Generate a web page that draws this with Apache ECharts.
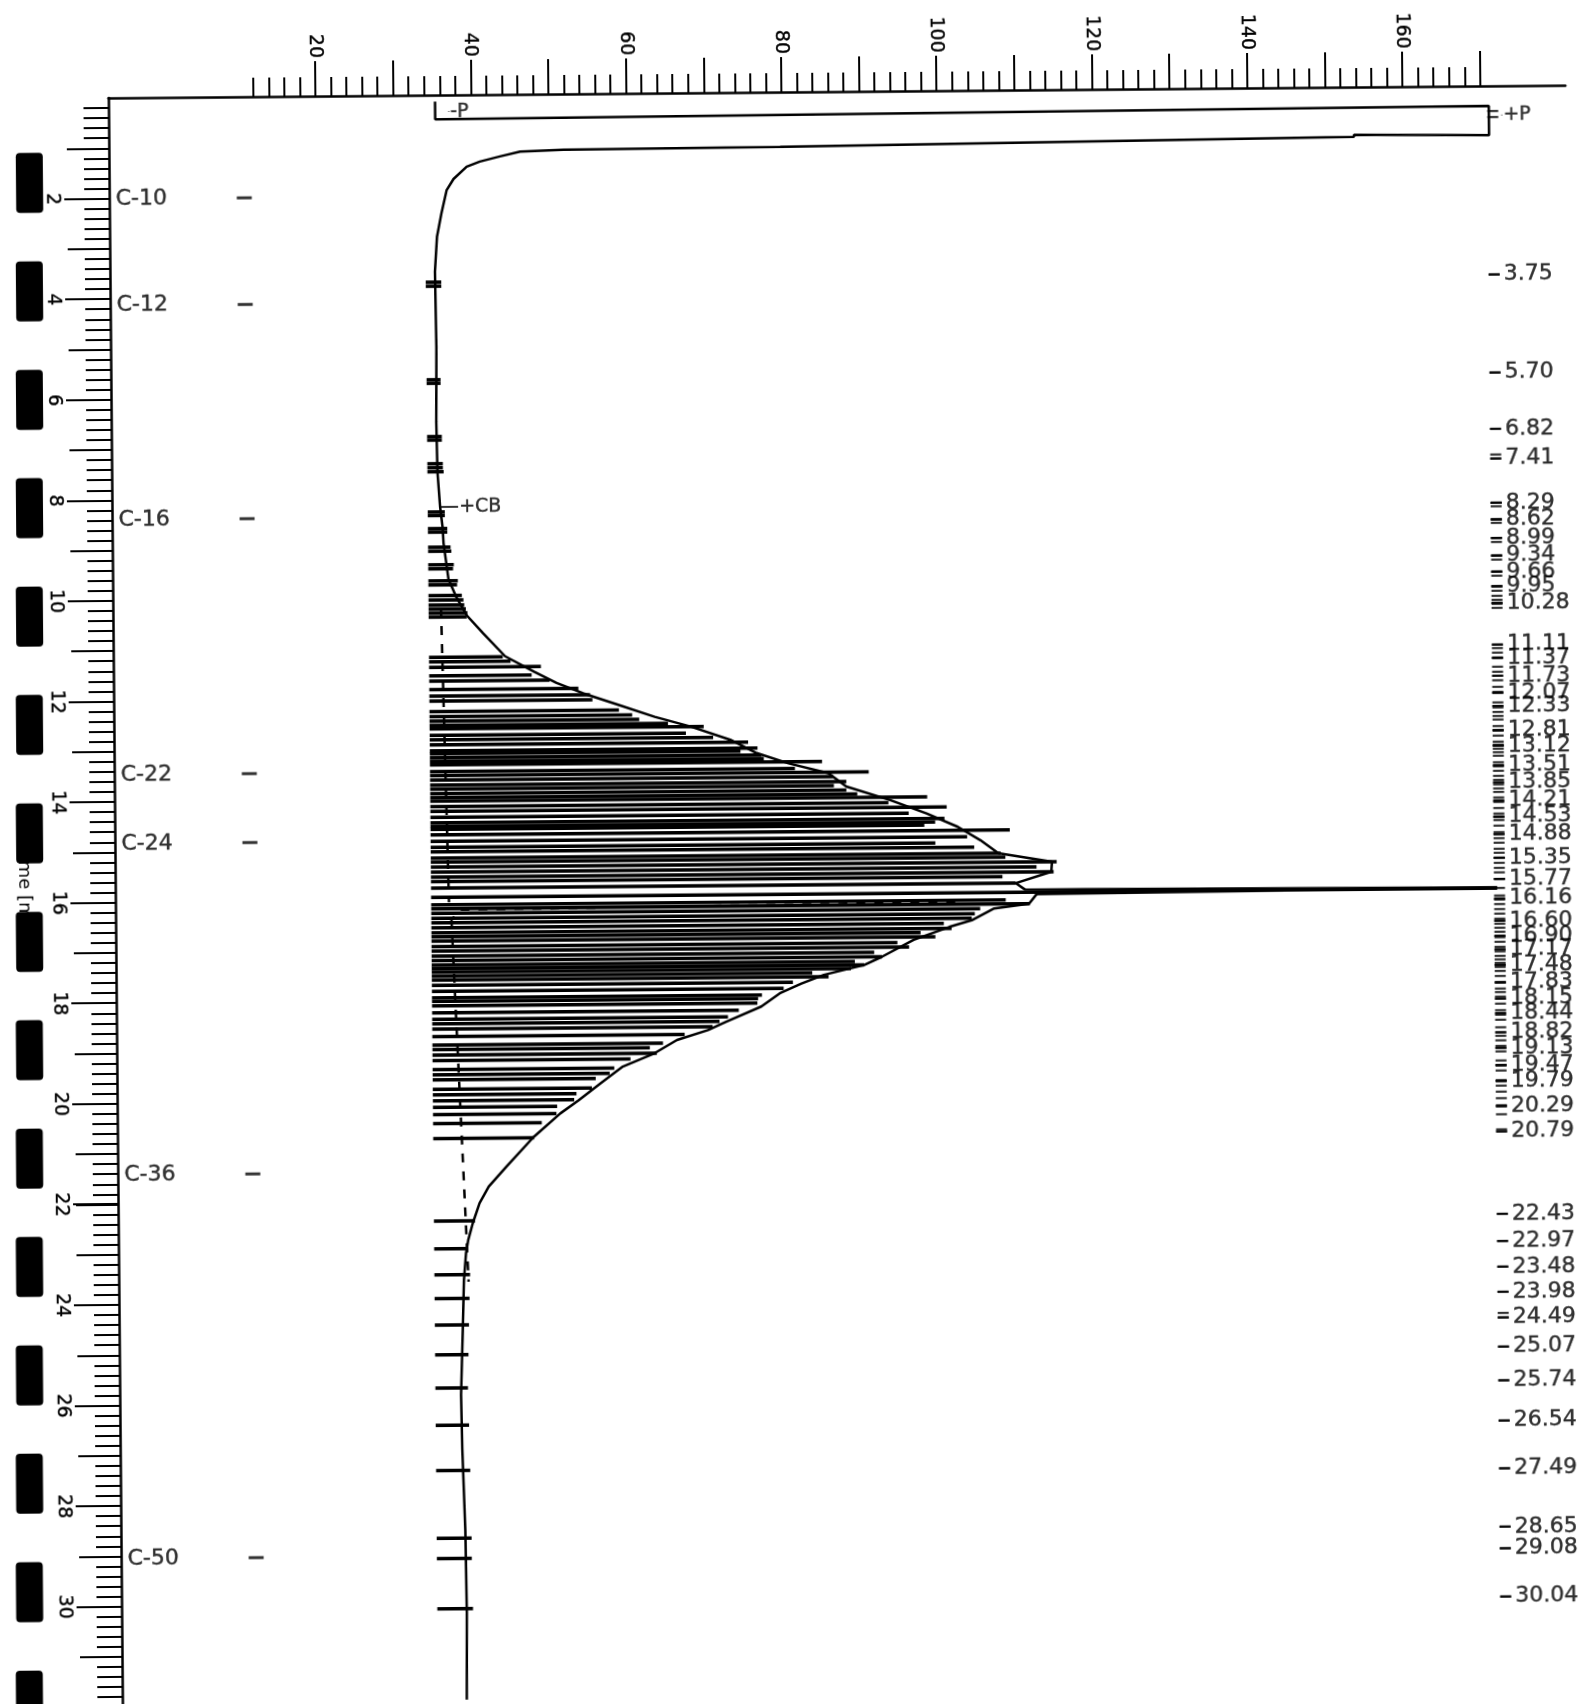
<!DOCTYPE html>
<html><head><meta charset="utf-8">
<script src="https://cdn.jsdelivr.net/npm/echarts@6/dist/echarts.min.js"></script>
<style>
html,body{margin:0;padding:0;background:#fff;overflow:hidden}
#chart{width:1587px;height:1704px;transform:rotate(-0.5deg);transform-origin:793.5px 852px}
</style></head><body><div id="chart"></div>
<script>
// ---------------- DATA ----------------
const signalTickLabels = [20, 40, 60, 80, 100, 120, 140, 160];
const timeTickLabels = [2, 4, 6, 8, 10, 12, 14, 16, 18, 20, 22, 24, 26, 28, 30];

// detector trace (signal, retention time in min)
const traceSignal = [35.4, 35.4, 171.1, 171.1, 153.7, 153.7, 79.8, 51.9, 46.3, 43.7, 41.1, 39.4, 37.7, 36.8, 36.1, 35.5, 35.2,
  35.3, 35.2, 35.3, 35.6, 35.9, 36.0, 36.6, 37.6, 38.9, 41.0, 43.8, 47.5, 50.4, 53.8, 58.4, 63.0, 67.6, 72.7,
  76.1, 80.2, 85.3, 87.6, 93.3, 97.9, 101.9, 104.8, 107.1, 114.0, 113.9, 109.3, 110.5, 171.3, 112.0, 111.0,
  106.5, 103.6, 100.7, 96.1, 92.0, 89.7, 84.5, 81.6, 78.8, 76.4, 71.8, 69.5, 65.5, 62.6, 58.5, 55.6, 52.8,
  50.4, 46.9, 43.4, 41.1, 39.9, 39.0, 38.4, 38.1, 37.8, 37.6, 37.3, 37.4, 37.7, 37.8, 37.7];
const traceTime = [0.13, 0.48, 0.40, 0.98, 0.95, 0.99, 1.09, 1.11, 1.14, 1.23, 1.33, 1.43, 1.67, 1.89, 2.35, 2.82, 3.51,
  5.00, 6.50, 7.50, 8.19, 8.60, 8.91, 9.63, 9.99, 10.35, 10.71, 11.17, 11.48, 11.71, 11.92, 12.16, 12.40, 12.60, 12.87,
  13.14, 13.35, 13.55, 13.82, 14.10, 14.37, 14.64, 14.91, 15.17, 15.35, 15.55, 15.77, 15.90, 15.94, 15.99, 16.18,
  16.27, 16.50, 16.63, 16.88, 17.21, 17.37, 17.56, 17.73, 17.92, 18.18, 18.48, 18.64, 18.83, 19.09, 19.35, 19.68, 20.01,
  20.27, 20.74, 21.32, 21.71, 22.04, 22.44, 22.77, 23.03, 23.57, 24.54, 25.85, 26.93, 28.55, 30.18, 31.91];

// integrated peaks (retention time, apex signal)
const peakTime = [3.72, 3.80, 5.66, 5.73, 6.79, 6.86, 7.33, 7.41, 7.49, 8.29, 8.36, 8.62, 8.69, 8.99, 9.07, 9.34, 9.42,
  9.66, 9.74, 9.95, 10.04, 10.14, 10.22, 10.30, 10.38,
  11.18, 11.27, 11.38, 11.55, 11.65, 11.82, 11.95, 12.05, 12.26, 12.36, 12.45, 12.53, 12.60, 12.73, 12.82,
  12.92, 13.04, 13.10, 13.18, 13.25, 13.32, 13.45, 13.53, 13.62, 13.72, 13.80, 13.89, 13.97, 14.04, 14.15,
  14.24, 14.36, 14.47, 14.54, 14.60, 14.71, 14.84, 14.96, 15.05, 15.17, 15.25, 15.35, 15.45, 15.55, 15.64,
  15.77, 15.95, 16.10, 16.18, 16.27, 16.37, 16.46, 16.56, 16.66, 16.74, 16.82, 16.93, 17.02, 17.12, 17.21,
  17.30, 17.37, 17.44, 17.52, 17.60, 17.70, 17.82, 17.95, 18.02, 18.11, 18.25, 18.38, 18.47, 18.57, 18.72,
  18.89, 18.98, 19.09, 19.20, 19.38, 19.48, 19.58, 19.77, 19.88, 20.00, 20.13, 20.27, 20.45, 20.75,
  22.39, 22.94, 23.46, 23.93, 24.46, 25.05, 25.71, 26.45, 27.35, 28.70, 29.10, 30.10];
const peakSignal = [36.0, 36.0, 35.8, 35.8, 35.9, 35.9, 36.0, 36.0, 36.1, 36.2, 36.2, 36.5, 36.5, 36.9, 37.0, 37.3, 37.2,
  37.8, 37.7, 38.3, 38.5, 38.6, 38.8, 39.0, 38.9,
  43.5, 44.5, 48.4, 47.2, 49.5, 53.2, 54.7, 55.0, 58.4, 60.1, 61.0, 64.7, 69.3, 67.0, 70.5,
  75.0, 76.2, 74.0, 76.7, 77.0, 84.5, 81.0, 90.5, 85.9, 87.6, 86.0, 87.6, 89.0, 98.0, 93.0,
  100.5, 95.6, 100.2, 99.0, 97.6, 108.6, 103.1, 99.0, 104.0, 107.4, 108.0, 114.6, 112.0, 114.2, 107.6,
  109.3, 171.3, 108.0, 111.1, 104.7, 104.0, 103.6, 100.0, 101.0, 97.0, 98.9, 94.0, 95.5, 91.0, 92.0,
  88.5, 89.7, 88.0, 83.0, 85.1, 80.5, 79.3, 76.5, 76.0, 75.9, 73.5, 72.1, 71.0, 70.1, 66.5,
  63.7, 62.0, 62.9, 59.5, 57.4, 56.8, 55.0, 54.5, 52.5, 52.2, 50.0, 49.9, 48.0, 47.0,
  39.3, 38.1, 38.6, 38.5, 38.4, 38.3, 38.2, 38.3, 38.4, 38.5, 38.5, 38.6];

// dashed baselines
const baseUpperSignal = [35.6, 36.3];
const baseUpperTime = [10.2, 16.05];
const baseIstdSignal = [101.5, 37.8, 36.6];
const baseIstdTime = [16.14, 16.2, 16.4];
const baseLowerSignal = [36.6, 38.4];
const baseLowerTime = [16.4, 23.6];

// printed retention times
const rtLabels = ['3.75', '5.70', '6.82', '7.41', '8.29', '8.62', '8.99', '9.34', '9.66', '9.95', '10.28',
  '11.11', '11.37', '11.73', '12.07', '12.33', '12.81', '13.12', '13.51', '13.85', '14.21', '14.53', '14.88',
  '15.35', '15.77', '16.16', '16.60', '16.90', '17.17', '17.48', '17.83', '18.15', '18.44', '18.82', '19.13',
  '19.47', '19.79', '20.29', '20.79', '22.43', '22.97', '23.48', '23.98', '24.49', '25.07', '25.74', '26.54',
  '27.49', '28.65', '29.08', '30.04'];
// extra unlabelled marks printed in the retention-time column
const extraMarkTimes = [0.50, 0.62, 7.33, 24.40];

// n-alkane markers
const carbonNames = ['C-10', 'C-12', 'C-16', 'C-22', 'C-24', 'C-36', 'C-50'];
const carbonTimes = [2.01, 4.13, 8.39, 13.46, 14.83, 21.42, 29.05];

// annotations
const annoText = ['-P', '+P', '+CB'];
const annoSignal = [36.0, 171.6, 35.6];
const annoTime = [0.33, 0.58, 8.19];

// ---------------- LAYOUT / STYLE ----------------
const FONT = 'DejaVu Sans';
const V_MIN = -6.66, V_MAX = 180.98, T_MAX = 32;
const PX_PER_MIN = 50.29, TOP = 92, LEFT = 115;
const PEAK_START = 34.0;       // left end of integration lines
const RIGHT_V = 171.6;          // column of retention-time marks
const C_TEXT_V = -5.9, C_DASH_V = 10.73;
const TXT = {fontFamily: FONT, color: '#000', textBorderColor: '#000', textBorderWidth: 0.4};

const chart = echarts.init(document.getElementById('chart'), null, {renderer: 'canvas'});

const markTimes = peakTime.filter(t => t > 8.2 && t < 21)
  .concat(rtLabels.map(parseFloat)).concat(extraMarkTimes);

// sprocket holes of the film strip (decoration), compensated for the page tilt
const TH = 0.5 * Math.PI / 180;
function unrot(X, Y) {
  const dx = X - 793.5, dy = Y - 852;
  return [793.5 + dx * Math.cos(TH) - dy * Math.sin(TH), 852 + dx * Math.sin(TH) + dy * Math.cos(TH)];
}
const graphics = [];
{
  const p = unrot(24, 894);
  graphics.push({type: 'text', x: p[0], y: p[1], rotation: -Math.PI / 2, z: 10,
    style: {text: 'Time [min]', fontFamily: FONT, fontSize: 18, fill: '#000',
      align: 'center', verticalAlign: 'middle', textAlign: 'center', textVerticalAlign: 'middle'}});
}
for (let k = 0; k < 15; k++) {
  const c = unrot(29.5, 153 + 108.4 * k + 30);
  graphics.push({type: 'rect', z: 20, shape: {x: c[0] - 13.5, y: c[1] - 30, width: 27, height: 60, r: 4},
    style: {fill: '#000'}});
}

// left time ruler is split in three aligned grids so that ticks start at 0.2 / 1 / 2 min
function rulerGrid(tStart) {
  const top = TOP + tStart * PX_PER_MIN;
  return {left: LEFT, top: top, width: 1, height: (T_MAX - tStart) * PX_PER_MIN};
}
const hiddenAxis = (g) => ({gridIndex: g, type: 'value', show: false});
const black = {color: '#000'};

const option = {
  animation: false,
  backgroundColor: '#fff',
  graphic: graphics,
  grid: [
    {left: LEFT, top: TOP, width: 1457, height: T_MAX * PX_PER_MIN},
    {left: 259.9, top: TOP, width: 1226.9, height: 1},
    {left: 322.0, top: TOP, width: 1164.8, height: 1},
    rulerGrid(0.2), rulerGrid(1), rulerGrid(2)
  ],
  xAxis: [
    {gridIndex: 0, type: 'value', position: 'top', min: V_MIN, max: V_MAX,
      axisLine: {show: true, onZero: false, lineStyle: {color: '#000', width: 2.5}},
      axisTick: {show: false}, axisLabel: {show: false}, splitLine: {show: false}},
    {gridIndex: 1, type: 'value', position: 'top', min: 12, max: 170, interval: 2,
      axisLine: {show: false}, axisTick: {show: true, length: 20, lineStyle: {color: '#000', width: 2}},
      axisLabel: {show: false}, splitLine: {show: false}},
    {gridIndex: 2, type: 'value', position: 'top', min: 20, max: 170, interval: 10,
      axisLine: {show: false}, axisTick: {show: true, length: 36, lineStyle: {color: '#000', width: 2}},
      axisLabel: Object.assign({show: true, rotate: -90, margin: 38, fontSize: 19,
        formatter: v => signalTickLabels.includes(v) ? String(v) : ''}, TXT),
      splitLine: {show: false}},
    hiddenAxis(3), hiddenAxis(4), hiddenAxis(5)
  ],
  yAxis: [
    {gridIndex: 0, type: 'value', inverse: true, min: 0, max: T_MAX, position: 'left',
      axisLine: {show: true, onZero: false, lineStyle: {color: '#000', width: 2.5}},
      axisTick: {show: false}, axisLabel: {show: false}, splitLine: {show: false}},
    hiddenAxis(1), hiddenAxis(2),
    {gridIndex: 3, type: 'value', inverse: true, min: 0.2, max: T_MAX, interval: 0.2, position: 'left',
      axisLine: {show: false, onZero: false},
      axisTick: {show: true, length: 25, lineStyle: {color: '#000', width: 2}},
      axisLabel: {show: false}, splitLine: {show: false}},
    {gridIndex: 4, type: 'value', inverse: true, min: 1, max: T_MAX, interval: 1, position: 'left',
      axisLine: {show: false, onZero: false},
      axisTick: {show: true, length: 42, lineStyle: {color: '#000', width: 2}},
      axisLabel: {show: false}, splitLine: {show: false}},
    {gridIndex: 5, type: 'value', inverse: true, min: 2, max: T_MAX, interval: 2, position: 'left',
      axisLine: {show: false, onZero: false},
      axisTick: {show: true, length: 45, lineStyle: {color: '#000', width: 2}},
      axisLabel: Object.assign({show: true, rotate: -90, margin: 48, fontSize: 19,
        formatter: v => timeTickLabels.includes(v) ? String(v) : ''}, TXT),
      splitLine: {show: false}}
  ],
  series: [
    {type: 'custom', name: 'peaks', xAxisIndex: 0, yAxisIndex: 0, z: 2,
      encode: {x: 0, y: 1},
      data: peakSignal.map((v, i) => [v, peakTime[i]]),
      renderItem: (params, api) => {
        const t = api.value(1), s = api.value(0);
        const a = api.coord([PEAK_START, t]), b = api.coord([s, t]);
        return {type: 'line', shape: {x1: a[0], y1: a[1], x2: b[0], y2: b[1]},
          style: {stroke: '#000', lineWidth: 3.5}};
      }},
    {type: 'line', name: 'trace', xAxisIndex: 0, yAxisIndex: 0, z: 3,
      data: traceSignal.map((v, i) => [v, traceTime[i]]),
      symbol: 'none', lineStyle: {color: '#000', width: 2.5}},
    {type: 'line', name: 'baseUpper', z: 3, data: baseUpperSignal.map((v, i) => [v, baseUpperTime[i]]),
      symbol: 'none', lineStyle: {color: '#000', width: 2.5, type: [9, 9]}},
    {type: 'line', name: 'baseIstd', z: 3, data: baseIstdSignal.map((v, i) => [v, baseIstdTime[i]]),
      symbol: 'none', lineStyle: {color: '#000', width: 2.5, type: [9, 9]}},
    {type: 'line', name: 'baseLower', z: 3, data: baseLowerSignal.map((v, i) => [v, baseLowerTime[i]]),
      symbol: 'none', lineStyle: {color: '#000', width: 2.5, type: [9, 9]}},
    {type: 'scatter', name: 'rtMarks', z: 4, data: markTimes.map(t => [RIGHT_V, t]),
      symbol: 'rect', symbolSize: [11, 2.2], itemStyle: black},
    {type: 'scatter', name: 'rtLabels', z: 5, data: rtLabels.map(s => [RIGHT_V, parseFloat(s), s]),
      symbol: 'rect', symbolSize: [11, 2.2], itemStyle: black,
      label: Object.assign({show: true, position: 'right', distance: 4, formatter: p => p.data[2],
        fontSize: 22}, TXT)},
    {type: 'scatter', name: 'carbonDash', z: 4, data: carbonTimes.map(t => [C_DASH_V, t]),
      symbol: 'rect', symbolSize: [15, 3], itemStyle: black},
    {type: 'scatter', name: 'carbonText', z: 4,
      data: carbonNames.map((n, i) => [C_TEXT_V, carbonTimes[i], n]),
      symbol: 'circle', symbolSize: 1, itemStyle: {color: 'rgba(0,0,0,0)'},
      label: Object.assign({show: true, position: 'right', distance: 0, formatter: p => p.data[2],
        fontSize: 22}, TXT)},
    {type: 'scatter', name: 'annotations', z: 5,
      data: annoText.map((s, i) => [annoSignal[i], annoTime[i], s]),
      symbol: 'rect', symbolSize: (v, p) => p.dataIndex === 2 ? [18, 2] : [1, 1],
      symbolOffset: [9, 0], itemStyle: black,
      label: Object.assign({show: true, position: 'right', distance: 1, formatter: p => p.data[2],
        fontSize: 19}, TXT)}
  ]
};
chart.setOption(option);
</script></body></html>
